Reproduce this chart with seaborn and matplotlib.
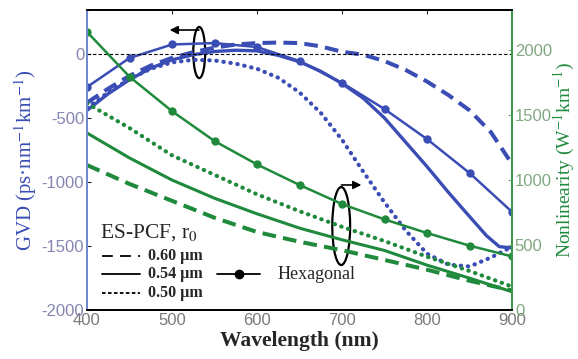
import numpy as np
import pandas as pd
import matplotlib
matplotlib.use("Agg")
import matplotlib.pyplot as plt
import seaborn as sns
from matplotlib.patches import Ellipse

# GVD curves (ps nm^-1 km^-1)
wl_060 = [400, 425, 450, 475, 500, 525, 550, 575, 600, 625, 650, 675, 700, 725, 750,
          775, 800, 825, 850, 875, 900]
gvd_060 = [-380, -270, -170, -90, -30, 15, 50, 75, 86, 90, 86, 60, 18, -5, -55,
           -125, -215, -320, -440, -610, -860]

wl_054 = [400, 425, 450, 475, 500, 525, 550, 575, 600, 625, 650, 675, 700, 725, 750,
          775, 800, 825, 850, 870, 885, 900]
gvd_054 = [-440, -310, -200, -110, -45, -5, 20, 30, 25, -10, -60, -135, -230, -345, -500,
           -690, -880, -1080, -1270, -1420, -1505, -1515]

wl_050 = [400, 425, 450, 475, 500, 525, 550, 575, 600, 625, 650, 675, 700, 725, 750,
          775, 800, 825, 850, 875, 900]
gvd_050 = [-420, -300, -195, -115, -65, -45, -50, -75, -115, -185, -300, -460, -670, -920, -1160,
           -1380, -1560, -1645, -1660, -1590, -1505]

wl_hex = [400, 450, 500, 550, 600, 650, 700, 750, 800, 850, 900]
gvd_hex = [-258, -31, 75, 86, 55, -55, -225, -430, -665, -930, -1234]

# nonlinearity curves (W^-1 km^-1)
wl_nl = [400, 450, 500, 550, 600, 650, 700, 750, 800, 850, 900]
nl_060 = [1115, 970, 840, 710, 600, 525, 460, 385, 310, 225, 150]
nl_054 = [1362, 1170, 1000, 860, 740, 630, 540, 458, 345, 245, 140]
nl_050 = [1590, 1400, 1190, 1040, 890, 760, 640, 530, 410, 300, 180]
nl_hex = [2140, 1795, 1530, 1300, 1120, 962, 815, 697, 592, 495, 412]

blue = "#3a4db5"
green = "#1f8a3c"

sns.set_style("white")
plt.rcParams["font.family"] = ["Liberation Serif", "DejaVu Serif"]
plt.rcParams["mathtext.fontset"] = "stix"

fig, ax = plt.subplots(figsize=(5.78, 3.59), dpi=100)
fig.subplots_adjust(left=0.1505, right=0.886, top=0.972, bottom=0.1365)
ax2 = ax.twinx()

dot = (0, (0.1, 1.6))
dash = (0, (3.4, 1.8))

sns.lineplot(x=wl_060, y=gvd_060, ax=ax, color=blue, lw=2.9)
ax.lines[-1].set_linestyle(dash)
sns.lineplot(x=wl_054, y=gvd_054, ax=ax, color=blue, lw=2.4)
sns.lineplot(x=wl_050, y=gvd_050, ax=ax, color=blue, lw=3.0)
ax.lines[-1].set_linestyle(dot)
ax.lines[-1].set_dash_capstyle("round")
sns.lineplot(x=wl_hex, y=gvd_hex, ax=ax, color=blue, lw=1.8, marker="o", markersize=6,
             markeredgewidth=0)
ax.axhline(0, color="k", lw=0.8, ls=(0, (3, 2)))

sns.lineplot(x=wl_nl, y=nl_060, ax=ax2, color=green, lw=2.9)
ax2.lines[-1].set_linestyle(dash)
sns.lineplot(x=wl_nl, y=nl_054, ax=ax2, color=green, lw=2.2)
sns.lineplot(x=wl_nl, y=nl_050, ax=ax2, color=green, lw=3.0)
ax2.lines[-1].set_linestyle(dot)
ax2.lines[-1].set_dash_capstyle("round")
sns.lineplot(x=wl_nl, y=nl_hex, ax=ax2, color=green, lw=1.8, marker="o", markersize=6,
             markeredgewidth=0)

ax.set_xlim(400, 900)
ax.set_ylim(-2000, 344)
ax2.set_ylim(0, 2308)
ax.set_xticks([400, 500, 600, 700, 800, 900])
ax.set_yticks([-2000, -1500, -1000, -500, 0])
ax2.set_yticks([0, 500, 1000, 1500, 2000])

tick_font = {"family": "Liberation Sans", "size": 12}
ax.set_xticklabels([str(v) for v in [400, 500, 600, 700, 800, 900]], **tick_font, color="#7a7a7a")
ax.set_yticklabels([str(v) for v in [-2000, -1500, -1000, -500, 0]], **tick_font, color="#8585b0")
ax2.set_yticklabels([str(v) for v in [0, 500, 1000, 1500, 2000]], **tick_font, color="#80a880")

ax.tick_params(axis="both", direction="in", length=3, pad=2, top=True)
ax2.tick_params(axis="y", direction="in", length=3, pad=2, colors="#80a880")
for lab in ax2.get_yticklabels():
    lab.set_color("#80a880")

for a in (ax, ax2):
    a.spines["top"].set_color("k")
    a.spines["bottom"].set_color("k")
    a.spines["left"].set_color("#7088d0")
    a.spines["right"].set_color("#3a9a4a")
    for s in a.spines.values():
        s.set_linewidth(1.3)

ax.set_xlabel("Wavelength (nm)", fontsize=15.5, fontweight="bold", labelpad=2)
ax.set_ylabel("GVD (ps·nm$^{-1}$km$^{-1}$)", fontsize=15, color=blue, labelpad=2)
ax2.set_ylabel("Nonlinearity (W$^{-1}$km$^{-1}$)", fontsize=14, color=green, labelpad=0)

# ellipse + arrow markers
ax.add_patch(Ellipse((532, 12), 14, 400, fill=False, ec="k", lw=1.6))
ax.annotate("", xy=(494, 188), xytext=(535, 188),
            arrowprops=dict(arrowstyle="-|>", color="k", lw=1.2, mutation_scale=12))
ax2.add_patch(Ellipse((699, 646), 21, 600, fill=False, ec="k", lw=1.6))
ax2.annotate("", xy=(726, 962), xytext=(696, 962),
             arrowprops=dict(arrowstyle="-|>", color="k", lw=1.2, mutation_scale=12))

# legend drawn as in the original
tr = ax.transAxes
ax.text(0.031, 0.257, "ES-PCF, r$_0$", transform=tr, fontsize=15.5, va="center", ha="left")
ax.plot([0.035, 0.125], [0.18, 0.18], transform=tr, color="k", lw=1.3, ls=(0, (6, 4)))
ax.plot([0.035, 0.125], [0.12, 0.12], transform=tr, color="k", lw=1.3)
ax.plot([0.035, 0.125], [0.058, 0.058], transform=tr, color="k", lw=1.3, ls=(0, (2, 1.3)))
for yy, lab in [(0.18, "0.60 µm"), (0.12, "0.54 µm"), (0.058, "0.50 µm")]:
    ax.text(0.144, yy, lab, transform=tr, fontsize=11.5, fontweight="bold", va="center", ha="left")
ax.plot([0.305, 0.408], [0.12, 0.12], transform=tr, color="k", lw=1.3)
ax.plot([0.357], [0.12], transform=tr, color="k", marker="o", markersize=6)
ax.text(0.447, 0.12, "Hexagonal", transform=tr, fontsize=13, va="center", ha="left")

fig.savefig("out.png", dpi=100)
